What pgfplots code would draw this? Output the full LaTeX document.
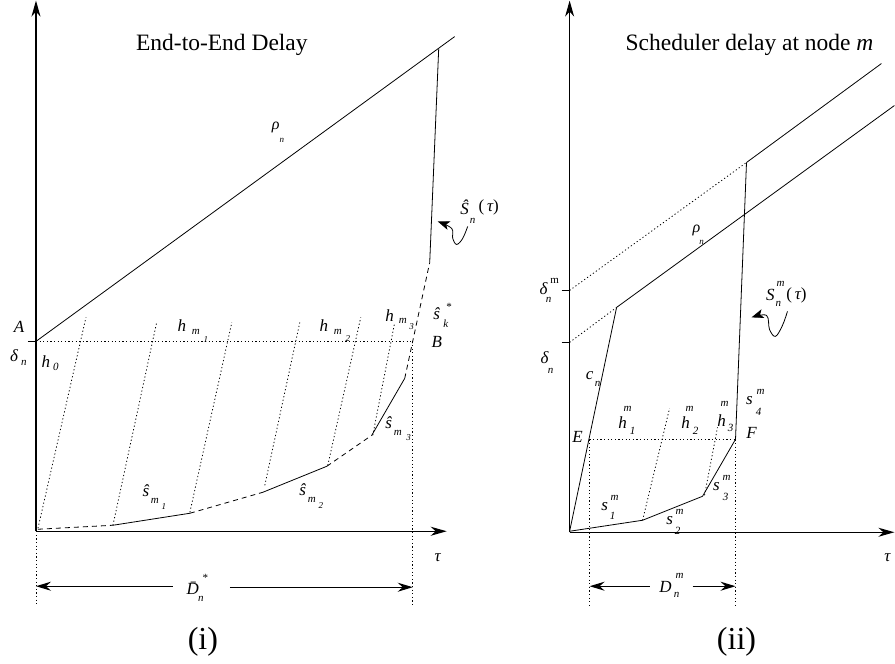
\documentclass[border=0pt]{standalone}
\usepackage{fontspec}
\setmainfont{Liberation Serif}
\usepackage{pgfplots}
\pgfplotsset{compat=1.18}
\usetikzlibrary{arrows.meta}
\tikzset{
  ln/.style={black, line width=0.8pt},
  dt/.style={black, line width=0.8pt, dash pattern=on 1.2pt off 2.4pt},
  ds/.style={black, line width=0.8pt, dash pattern=on 5pt off 4pt},
  ax/.style={black, line width=1.2pt, -{Stealth[length=16pt,width=9pt,inset=5pt]}},
  dim/.style={black, line width=1.1pt, -{Stealth[length=15pt,width=9pt,inset=5pt]}},
  cur/.style={black, line width=0.8pt, smooth, tension=0.6, -{Stealth[length=12pt,width=9pt,inset=3pt]}},
  lab/.style={font=\fontsize{17}{20}\selectfont\itshape, inner sep=0pt},
  sc/.style={font=\fontsize{11}{12}\selectfont\itshape, inner sep=0pt},
  ssc/.style={font=\fontsize{9}{10}\selectfont\itshape, inner sep=0pt},
}
\begin{document}
\begin{tikzpicture}
\begin{axis}[
  scale only axis, width=895pt, height=663pt,
  xmin=0, xmax=895, ymin=0, ymax=663, y dir=reverse,
  hide axis, clip=false]
\addplot[draw=none] coordinates {(0,0) (895,663)};
% ---------- panel (i) ----------
\addplot[ax] coordinates {(36,531) (36,0)};
\addplot[ax] coordinates {(36,531) (447,531)};
\addplot[ln] coordinates {(36,341) (455,36)};
\addplot[ln] coordinates {(28,341) (36,341)};
\addplot[dt] coordinates {(36,341) (413,341)};
% S hat curve
\addplot[ds] coordinates {(38,529) (113,525)};
\addplot[ln] coordinates {(113,525) (190,513)};
\addplot[ds] coordinates {(190,513) (263,492)};
\addplot[ln] coordinates {(263,492) (327,466)};
\addplot[ds] coordinates {(327,466) (372,435)};
\addplot[ln] coordinates {(372,435) (405,378)};
\addplot[ds] coordinates {(405,378) (430,262)};
\addplot[ln] coordinates {(430,262) (439,48)};
% dotted slants
\addplot[dt] coordinates {(38,528) (86,317)};
\addplot[dt] coordinates {(113,525) (157,321)};
\addplot[dt] coordinates {(190,512) (232,322)};
\addplot[dt] coordinates {(265,485) (300,322)};
\addplot[dt] coordinates {(328,465) (361,317)};
\addplot[dt] coordinates {(373,435) (395,322)};
% dotted verticals
\addplot[dt] coordinates {(36,531) (36,605)};
\addplot[dt] coordinates {(413,341) (413,605)};
% dimension arrows
\addplot[dim] coordinates {(173,586) (36,586)};
\addplot[dim] coordinates {(230,587) (413,587)};
% curly arrow
\addplot[cur] coordinates {(468,226) (463,238) (457,244) (453,238) (452,228) (438,221)};
% labels
\node[inner sep=0pt, font=\fontsize{23.5}{28}\selectfont] at (axis cs:222,44) {End-to-End Delay};
\node[lab, font=\fontsize{16}{18}\selectfont\itshape] at (axis cs:276,127) {ρ};
\node[ssc] at (axis cs:282,140) {n};
\node[lab] at (axis cs:19,327) {A};
\node[lab] at (axis cs:14,355) {δ};
\node[sc] at (axis cs:24,363) {n};
\node[lab] at (axis cs:46,361) {h};
\node[sc] at (axis cs:56,367) {0};
\node[lab] at (axis cs:182,325) {h};
\node[sc] at (axis cs:196,332) {m};
\node[ssc] at (axis cs:206,339) {1};
\node[lab] at (axis cs:324,325) {h};
\node[sc] at (axis cs:338,332) {m};
\node[ssc] at (axis cs:348,338) {2};
\node[lab] at (axis cs:390,315) {h};
\node[sc] at (axis cs:403,321) {m};
\node[ssc] at (axis cs:412,326) {3};
\node[lab] at (axis cs:437,313) {ŝ};
\node[sc] at (axis cs:446,323) {k};
\node[sc] at (axis cs:449,307) {*};
\node[lab] at (axis cs:437,342) {B};
\node[lab] at (axis cs:146,490) {ŝ};
\node[sc] at (axis cs:155,501) {m};
\node[ssc] at (axis cs:164,506) {1};
\node[lab] at (axis cs:303,489) {ŝ};
\node[sc] at (axis cs:312,500) {m};
\node[ssc] at (axis cs:321,505) {2};
\node[lab] at (axis cs:389,422) {ŝ};
\node[sc] at (axis cs:398,433) {m};
\node[ssc] at (axis cs:409,437) {3};
\node[lab] at (axis cs:465,207) {Ŝ};
\node[sc] at (axis cs:473,220) {n};
\node[lab] at (axis cs:489,207) {{\upshape(}\,τ{\upshape)}};
\node[lab] at (axis cs:438,557) {τ};
\node[lab] at (axis cs:193,588) {\={D}};
\node[sc] at (axis cs:205,578) {*};
\node[sc] at (axis cs:201,599) {n};
\node[inner sep=0pt, font=\fontsize{32}{36}\selectfont] at (axis cs:203,642) {(i)};
% ---------- panel (ii) ----------
\addplot[ax] coordinates {(570,532) (570,0)};
\addplot[ax] coordinates {(570,532) (895,532)};
\addplot[ln] coordinates {(562,290) (570,290)};
\addplot[ln] coordinates {(562,342) (570,342)};
\addplot[dt] coordinates {(570,290) (747,162)};
\addplot[ln] coordinates {(747,162) (882,63)};
\addplot[dt] coordinates {(570,342) (617,307)};
\addplot[ln] coordinates {(617,307) (895,105)};
\addplot[ln] coordinates {(570,531) (617,307)};
\addplot[ln] coordinates {(747,162) (736,439)};
\addplot[ln] coordinates {(570,531) (643,520) (703,496) (736,439)};
\addplot[dt] coordinates {(590,439) (736,439)};
\addplot[dt] coordinates {(590,439) (590,605)};
\addplot[dt] coordinates {(736,439) (736,605)};
\addplot[dt] coordinates {(643,520) (670,408)};
\addplot[dt] coordinates {(705,495) (718,427)};
\addplot[dim] coordinates {(650,586) (590,586)};
\addplot[dim] coordinates {(693,586) (736,586)};
\addplot[cur] coordinates {(788,311) (783,325) (776,336) (770,329) (767,315) (752,317)};
\node[inner sep=0pt, font=\fontsize{23.5}{28}\selectfont] at (axis cs:750,44) {Scheduler delay at node \textit{m}};
\node[lab, font=\fontsize{16}{18}\selectfont\itshape] at (axis cs:697,230) {ρ};
\node[ssc] at (axis cs:702,242) {n};
\node[lab] at (axis cs:771,295) {S};
\node[sc] at (axis cs:781,283) {m};
\node[sc] at (axis cs:779,304) {n};
\node[lab] at (axis cs:797,295) {{\upshape(}\,τ{\upshape)}};
\node[lab] at (axis cs:544,288) {δ};
\node[sc, font=\fontsize{11}{12}\selectfont] at (axis cs:555,280) {m};
\node[sc] at (axis cs:549,300) {n};
\node[lab] at (axis cs:545,357) {δ};
\node[sc] at (axis cs:551,371) {n};
\node[lab] at (axis cs:590,375) {c};
\node[sc] at (axis cs:598,384) {n};
\node[lab] at (axis cs:578,437) {E};
\node[lab] at (axis cs:752,433) {F};
\node[lab] at (axis cs:623,422) {h};
\node[sc] at (axis cs:628,409) {m};
\node[sc] at (axis cs:633,431) {1};
\node[lab] at (axis cs:686,422) {h};
\node[sc] at (axis cs:690,409) {m};
\node[sc] at (axis cs:696,431) {2};
\node[lab] at (axis cs:722,420) {h};
\node[sc] at (axis cs:725,404) {m};
\node[sc] at (axis cs:731,428) {3};
\node[lab] at (axis cs:750,400) {s};
\node[sc] at (axis cs:761,392) {m};
\node[sc] at (axis cs:759,412) {4};
\node[lab] at (axis cs:717,486) {s};
\node[sc] at (axis cs:727,478) {m};
\node[sc] at (axis cs:726,497) {3};
\node[lab] at (axis cs:670,520) {s};
\node[sc] at (axis cs:680,512) {m};
\node[sc] at (axis cs:678,531) {2};
\node[lab] at (axis cs:605,506) {s};
\node[sc] at (axis cs:615,498) {m};
\node[sc] at (axis cs:613,516) {1};
\node[lab] at (axis cs:888,557) {τ};
\node[lab] at (axis cs:666,587) {D};
\node[sc] at (axis cs:680,576) {m};
\node[sc] at (axis cs:677,595) {n};
\node[inner sep=0pt, font=\fontsize{32}{36}\selectfont] at (axis cs:737,642) {(ii)};
\end{axis}
\end{tikzpicture}
\end{document}
